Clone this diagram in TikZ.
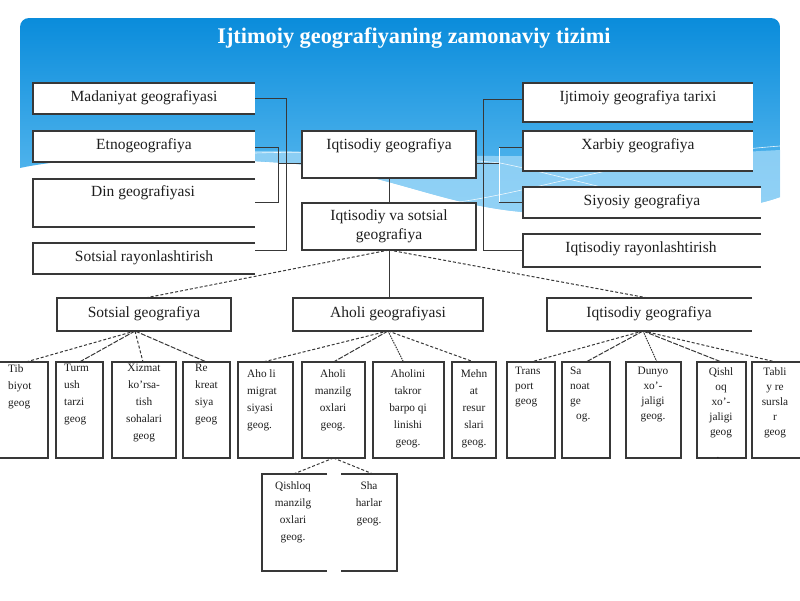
\documentclass[tikz,border=0pt]{standalone}
\usepackage{fontspec}
\setmainfont{Liberation Serif}
\usetikzlibrary{calc}
\definecolor{bluetop}{HTML}{0A8CDB}
\definecolor{bluebot}{HTML}{66C0F2}
\definecolor{bandc}{HTML}{A2D9F8}
\definecolor{ln}{HTML}{383838}
\definecolor{tx}{HTML}{1E1E1E}
\newcommand\bxnode[6]{\node[#6, minimum width={#4-#2}, minimum height={#5-#3}] (#1) at ({(#2+#4)/2},{(#3+#5)/2}) {};}
\begin{document}
\begin{tikzpicture}[x=1pt,y=-1pt,
  bx/.style={fill=white, draw=ln, line width=1.1pt, inner sep=0pt, outer sep=0pt},
  ob/.style={fill=white, draw=none, inner sep=0pt, outer sep=0pt},
  bord/.style={draw=ln, line width=1.1pt},
  conn/.style={draw=ln, line width=1pt},
  dsh/.style={conn, dash pattern=on 3pt off 2pt},
  dns/.style={conn, dash pattern=on 5pt off 1.5pt},
  dtt/.style={conn, dash pattern=on 1.5pt off 1pt},
  ttl/.style={font=\fontsize{22.3}{25}\selectfont\bfseries, text=white, inner sep=0pt},
  lt/.style={font=\fontsize{15.5}{19}\selectfont, text=tx, inner sep=0pt, align=center},
  st/.style={font=\fontsize{11.3}{17}\selectfont, text=tx, inner sep=0pt, anchor=north, align=center},
  sl/.style={font=\fontsize{11.3}{17}\selectfont, text=tx, inner sep=0pt, anchor=north west, align=left},
  tight/.style={font=\fontsize{11.3}{15}\selectfont}
]
\useasboundingbox (0,0) rectangle (800,600);
\fill[white] (0,0) rectangle (800,600);
% blue header
\shade[top color=bluetop, bottom color=bluebot]
 (20,168) [rounded corners=9pt] -- (20,18) -- (780,18) -- (780,40) [sharp corners] -- (780,197)
 .. controls (740,212) and (640,222) .. (523,212)
 .. controls (440,205) and (380,170) .. (285,163)
 .. controls (180,156) and (80,155) .. (20,168) -- cycle;
\fill[bandc, opacity=0.75] (150,157) .. controls (200,152) and (250,150) .. (285,151)
 .. controls (420,156) and (600,160) .. (780,150) -- (780,197)
 .. controls (740,212) and (640,222) .. (523,212)
 .. controls (440,205) and (380,170) .. (285,163)
 .. controls (240,160) and (190,157) .. (150,157) -- cycle;
\draw[white, line width=0.6pt, opacity=0.85] (255,153) .. controls (350,150) and (450,158) .. (500,163) .. controls (560,175) and (620,195) .. (700,206);
\draw[white, line width=0.6pt, opacity=0.85] (420,206) .. controls (520,200) and (600,160) .. (780,146);

\node[ttl] (title) at (414,38) {Ijtimoiy geografiyaning zamonaviy tizimi};

% left column (open right)
\bxnode{madb}{33}{83}{255}{114}{ob}
\bxnode{etnb}{33}{131}{255}{162}{ob}
\bxnode{dinb}{33}{179}{255}{227}{ob}
\bxnode{srb}{33}{243}{255}{274}{ob}
\foreach \n in {madb,etnb,dinb,srb}
  \draw[bord] (\n.north east) -| (\n.south west) -- (\n.south east);
% centre
\bxnode{iqgb}{302}{131}{476}{178}{bx}
\bxnode{ivsb}{302}{203}{476}{250}{bx}
% right column (open right)
\bxnode{itb}{523}{83}{753}{122}{ob}
\bxnode{xab}{523}{131}{753}{171}{ob}
\bxnode{siyb}{523}{187}{761}{218}{ob}
\bxnode{irb}{523}{234}{761}{267}{ob}
\foreach \n in {itb,xab,siyb,irb}
  \draw[bord] (\n.north east) -| (\n.south west) -- (\n.south east);
% middle row
\bxnode{sgb}{57}{298}{231}{331}{bx}
\bxnode{agb}{293}{298}{483}{331}{bx}
\bxnode{igb}{547}{298}{752}{331}{ob}
\draw[bord] (igb.north east) -| (igb.south west) -- (igb.south east);
% bottom row
\bxnode{tib}{0}{362}{48}{458}{ob}
\draw[bord] (tib.north west) -- (tib.north east) -- (tib.south east) -- (tib.south west);
\bxnode{turm}{56}{362}{103}{458}{bx}
\bxnode{xiz}{112}{362}{176}{458}{bx}
\bxnode{rek}{183}{362}{230}{458}{bx}
\bxnode{ahm}{238}{362}{293}{458}{bx}
\bxnode{ahz}{302}{362}{365}{458}{bx}
\bxnode{ahk}{373}{362}{444}{458}{bx}
\bxnode{meh}{452}{362}{496}{458}{bx}
\bxnode{trn}{507}{362}{555}{458}{bx}
\bxnode{san}{562}{362}{610}{458}{bx}
\bxnode{dun}{626}{362}{681}{458}{bx}
\bxnode{qxj}{697}{362}{746}{458}{bx}
\bxnode{tab}{752}{362}{800}{458}{ob}
\draw[bord] (tab.north east) -| (tab.south west) -- (tab.south east);
\bxnode{qsh}{262}{474}{397}{571}{ob}
\draw[bord] ([xshift=-2.5pt]qsh.north) -| (qsh.south west) -- ([xshift=-2.5pt]qsh.south);
\draw[bord] ([xshift=11.5pt]qsh.north) -| (qsh.south east) -- ([xshift=11.5pt]qsh.south);

% brackets
\draw[conn] ([yshift=0.5pt]madb.east) -- ++(31,0) |- ([yshift=8.5pt]srb.east);
\draw[conn] ([yshift=-0.5pt]etnb.east) -- ++(23,0) |- ([yshift=1pt]dinb.east);
\draw[conn] ([yshift=-8.5pt]iqgb.west) -- ++(-24,0);
\draw[conn] ([yshift=3.5pt]itb.west) -- ++(-40,0) |- (irb.west);
\draw[white, line width=1pt] ([yshift=4pt]xab.west) -- ++(-24,0) |- (siyb.west);
\draw[conn] ([yshift=4pt]xab.west) -- ++(-24,0);
\draw[conn] (siyb.west) -- ++(-24,0);
\draw[conn] ([yshift=-8.5pt]iqgb.east) -- ++(23,0);
\draw[conn] (iqgb.south) -- (ivsb.north);

% tree connectors
\draw[dsh] (ivsb.south) -- ([xshift=1pt]sgb.north);
\draw[conn] (ivsb.south) -- (ivsb.south |- agb.north);
\draw[dsh] (ivsb.south) -- ([xshift=-1.5pt]igb.north);

\draw[dsh] ([xshift=-9pt]sgb.south) -- ([xshift=2pt]tib.north);
\draw[dns] ([xshift=-9pt]sgb.south) -- (turm.north);
\draw[dsh] ([xshift=-9pt]sgb.south) -- ([xshift=-1pt]xiz.north);
\draw[dns] ([xshift=-9pt]sgb.south) -- (rek.north);

\draw[dsh] (agb.south) -- ([xshift=-2.5pt]ahm.north);
\draw[dns] (agb.south) -- (ahz.north);
\draw[dtt] (agb.south) -- ([xshift=-5pt]ahk.north);
\draw[dsh] (agb.south) -- (meh.north);

\draw[dsh] ([xshift=-6.5pt]igb.south) -- (trn.north);
\draw[dns] ([xshift=-6.5pt]igb.south) -- (san.north);
\draw[dtt] ([xshift=-6.5pt]igb.south) -- ([xshift=3.5pt]dun.north);
\draw[dns] ([xshift=-6.5pt]igb.south) -- (qxj.north);
\draw[dsh] ([xshift=-6.5pt]igb.south) -- (tab.north);

\draw[dsh] (ahz.south) -- ([xshift=-36pt]qsh.north);
\draw[dsh] (ahz.south) -- ([xshift=43.5pt]qsh.north);

% large texts
\node[lt] (madt) at (144,98) {Madaniyat geografiyasi};
\node[lt] (etnt) at (144,146) {Etnogeografiya};
\node[lt] (dint) at (143,193) {Din geografiyasi};
\node[lt] (srt) at (144,258) {Sotsial rayonlashtirish};
\node[lt] (iqgt) at (389,146) {Iqtisodiy geografiya};
\node[lt] (ivst) at (389,226) {Iqtisodiy va sotsial\\geografiya};
\node[lt] (itt) at (638,98) {Ijtimoiy geografiya tarixi};
\node[lt] (xat) at (638,146) {Xarbiy geografiya};
\node[lt] (siyt) at (642,202) {Siyosiy geografiya};
\node[lt] (irt) at (641,249) {Iqtisodiy rayonlashtirish};
\node[lt] (sgt) at (144,314) {Sotsial geografiya};
\node[lt] (agt) at (388,314) {Aholi geografiyasi};
\node[lt] (igt) at (649,314) {Iqtisodiy geografiya};

% small texts
\node[sl] (tibt) at (8,364) {Tib\\biyot\\geog};
\node[sl] (turmt) at (64,364) {Turm\\ush\\tarzi\\geog};
\node[st] (xizt) at (144,364) {Xizmat\\ko'rsa-\\tish\\sohalari\\geog};
\node[sl] (rekt) at (195,364) {Re\\kreat\\siya\\geog};
\node[sl] (ahmt) at (247,369) {Aho li\\migrat\\siyasi\\geog.};
\node[st] (ahzt) at (333,369) {Aholi\\manzilg\\oxlari\\geog.};
\node[st] (ahkt) at (408,369) {Aholini\\takror\\barpo qi\\linishi\\geog.};
\node[st] (meht) at (474,369) {Mehn\\at\\resur\\slari\\geog.};
\node[sl, tight] (trnt) at (515,367) {Trans\\port\\geog};
\node[sl, tight] (sant) at (570,367) {Sa\\noat\\ge\\\hspace*{6pt}og.};
\node[st, tight] (dunt) at (653,367) {Dunyo\\xo'-\\jaligi\\geog.};
\node[st, tight] (qxjt) at (721,367) {Qishl\\oq\\xo'-\\jaligi\\geog};
\node[st, tight] (tabt) at (775,367) {Tabli\\y re\\sursla\\r\\geog};
\node[st] (dott) at (718,457) {.};
\node[st] (qsht) at (293,481) {Qishloq\\manzilg\\oxlari\\geog.};
\node[st] (shat) at (369,481) {Sha\\harlar\\geog.};
\end{tikzpicture}
\end{document}
